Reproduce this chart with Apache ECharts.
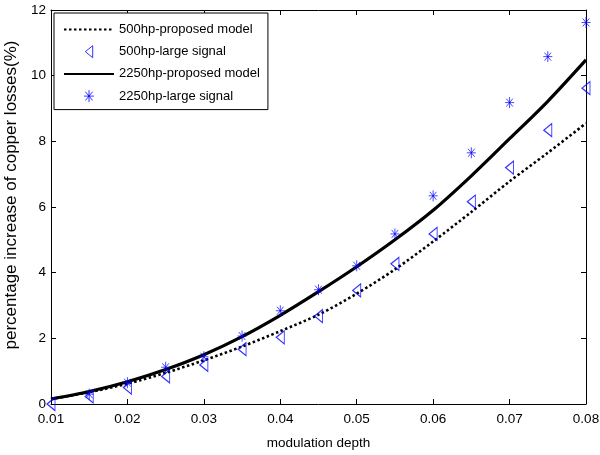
<!DOCTYPE html>
<html>
<head>
<meta charset="utf-8">
<script src="https://cdn.jsdelivr.net/npm/echarts@6/dist/echarts.min.js"></script>
<style>
  html, body { margin: 0; padding: 0; background: #fff; }
  #chart { width: 600px; height: 455px; }
</style>
</head>
<body>
<div id="chart"></div>
<script>
// Modulation depth sample points
const depth = [0.01, 0.015, 0.02, 0.025, 0.03, 0.035, 0.04, 0.045, 0.05, 0.055, 0.06, 0.065, 0.07, 0.075, 0.08];

// Percentage increase of copper losses (%)
const model500   = [0.15, 0.36, 0.62, 0.95, 1.33, 1.75, 2.22, 2.72, 3.36, 4.10, 4.95, 5.85, 6.78, 7.65, 8.55];
const signal500  = [0.00, 0.23, 0.50, 0.84, 1.19, 1.67, 2.03, 2.68, 3.46, 4.27, 5.18, 6.16, 7.20, 8.34, 9.62];
const model2250  = [0.15, 0.38, 0.68, 1.05, 1.50, 2.05, 2.70, 3.42, 4.18, 5.00, 5.90, 6.95, 8.08, 9.22, 10.48];
const signal2250 = [null, 0.30, 0.65, 1.12, 1.44, 2.07, 2.84, 3.48, 4.21, 5.18, 6.34, 7.65, 9.18, 10.58, 11.62];

const seriesNames = ['500hp-proposed model', '500hp-large signal', '2250hp-proposed model', '2250hp-large signal'];

// Axis ranges: [min, max, interval]
const xRange = [0.01, 0.08, 0.01];
const yRange = [0, 12, 2];

const pair = (vals) => depth.map((d, i) => [d, vals[i]]);

const triPath = 'path://M8,0L0,6.5L8,13Z';
const starPath = 'path://M4.5,0L4.5,11M0,5.5L9,5.5M1.2,1.5L7.8,9.5M1.2,9.5L7.8,1.5';

const FONT = 'Liberation Sans';
const tickFont = { fontFamily: FONT, fontSize: 13.5, color: '#000' };
const blue = '#0000ff';
const hiddenMarker = { color: 'rgba(0,0,0,0)', borderWidth: 0, opacity: 0 };
const hollowMarker = { color: 'rgba(0,0,0,0)', borderColor: blue, borderWidth: 1 };

const chart = echarts.init(document.getElementById('chart'), null, { renderer: 'canvas' });

const frameAxis = (extra) => Object.assign({
  type: 'value',
  axisLine: { show: true, onZero: false, lineStyle: { color: '#000', width: 1 } },
  axisTick: { show: true, inside: true, length: 5, lineStyle: { color: '#000' } },
  splitLine: { show: false }
}, extra);

chart.setOption({
  animation: false,
  backgroundColor: '#fff',
  grid: { left: 51, right: 14, top: 10, bottom: 51, containLabel: false, outerBoundsMode: 'none' },
  legend: {
    orient: 'vertical',
    left: 54,
    top: 13,
    padding: [10, 8, 7, 9],
    itemWidth: 50,
    itemHeight: 12,
    itemGap: 9.2,
    borderColor: '#000',
    borderWidth: 1,
    backgroundColor: '#fff',
    textStyle: { fontFamily: FONT, fontSize: 13, color: '#000' },
    data: [
      { name: seriesNames[0], itemStyle: hiddenMarker },
      { name: seriesNames[1], icon: triPath, itemStyle: hollowMarker },
      { name: seriesNames[2], itemStyle: hiddenMarker },
      { name: seriesNames[3], icon: starPath, itemStyle: hollowMarker }
    ]
  },
  xAxis: [
    frameAxis({
      min: xRange[0], max: xRange[1], interval: xRange[2],
      position: 'bottom',
      name: 'modulation depth',
      nameLocation: 'middle',
      nameGap: 32,
      nameTextStyle: { fontFamily: FONT, fontSize: 13.5, color: '#000' },
      axisLabel: Object.assign({ margin: 8, formatter: (v) => v.toFixed(2) }, tickFont)
    }),
    frameAxis({
      min: xRange[0], max: xRange[1], interval: xRange[2],
      position: 'top',
      axisLabel: { show: false }
    })
  ],
  yAxis: [
    frameAxis({
      min: yRange[0], max: yRange[1], interval: yRange[2],
      position: 'left',
      name: 'percentage increase of copper losses(%)',
      nameLocation: 'middle',
      nameGap: 30,
      nameTextStyle: { fontFamily: FONT, fontSize: 17, color: '#000', padding: [0, 0, 0, 24] },
      axisLabel: Object.assign({ margin: 5 }, tickFont)
    }),
    frameAxis({
      min: yRange[0], max: yRange[1], interval: yRange[2],
      position: 'right',
      axisLabel: { show: false }
    })
  ],
  series: [
    {
      name: seriesNames[0],
      type: 'line',
      data: pair(model500),
      smooth: 0.3,
      symbol: 'none',
      lineStyle: { color: '#000', width: 2.6, type: [2.5, 2.5] },
      itemStyle: { color: '#000' },
      z: 2
    },
    {
      name: seriesNames[1],
      type: 'scatter',
      data: pair(signal500),
      symbol: triPath,
      symbolSize: [8, 13],
      clip: false,
      itemStyle: { color: 'rgba(0,0,0,0)', borderColor: blue, borderWidth: 1.1 },
      z: 3
    },
    {
      name: seriesNames[2],
      type: 'line',
      data: pair(model2250),
      smooth: 0.3,
      symbol: 'none',
      lineStyle: { color: '#000', width: 3.2 },
      itemStyle: { color: '#000' },
      z: 2
    },
    {
      name: seriesNames[3],
      type: 'scatter',
      data: pair(signal2250),
      symbol: starPath,
      symbolSize: [9, 11],
      clip: false,
      itemStyle: { color: 'rgba(0,0,0,0)', borderColor: blue, borderWidth: 0.9 },
      z: 3
    }
  ]
});
</script>
</body>
</html>
